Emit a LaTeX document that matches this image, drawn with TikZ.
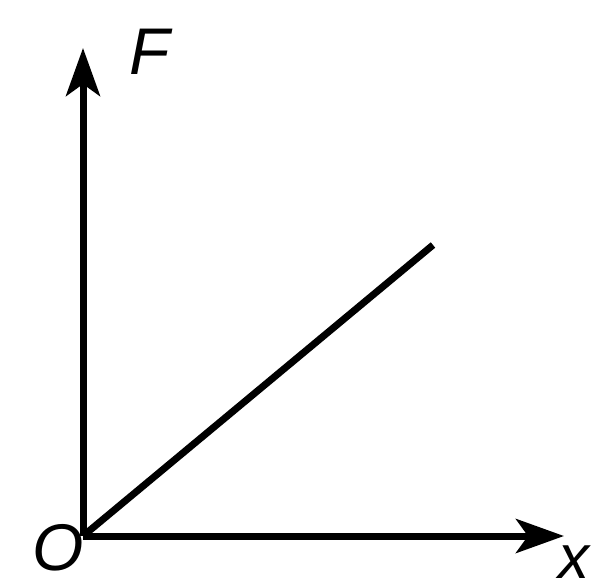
\documentclass[tikz,border=0pt]{standalone}
\usepackage{fontspec}
\setmainfont{Liberation Sans}
\usetikzlibrary{arrows.meta}
\begin{document}
\begin{tikzpicture}[x=1pt,y=-1pt,
  axis/.style={line width=7pt,-{Stealth[length=48pt,width=34pt,inset=12pt]}},
  lbl/.style={font=\fontsize{66}{66}\selectfont\itshape,inner sep=0pt}]
\useasboundingbox (0,0) rectangle (602,587);
\coordinate (O) at (83,536);
\coordinate (Ftip) at (83,48);
\coordinate (Xtip) at (564,536);
\coordinate (P) at (433,245);
\draw[axis] (O) -- (Ftip);
\draw[axis] (O) -- (Xtip);
\draw[line width=7pt] (O) -- (P);
\node[lbl] (Fl) at (150,52) {F};
\node[lbl] (Ol) at (58,548) {O};
\node[lbl,font=\fontsize{62}{62}\selectfont\itshape,anchor=east] (xl) at (590,562) {x};
\end{tikzpicture}
\end{document}
